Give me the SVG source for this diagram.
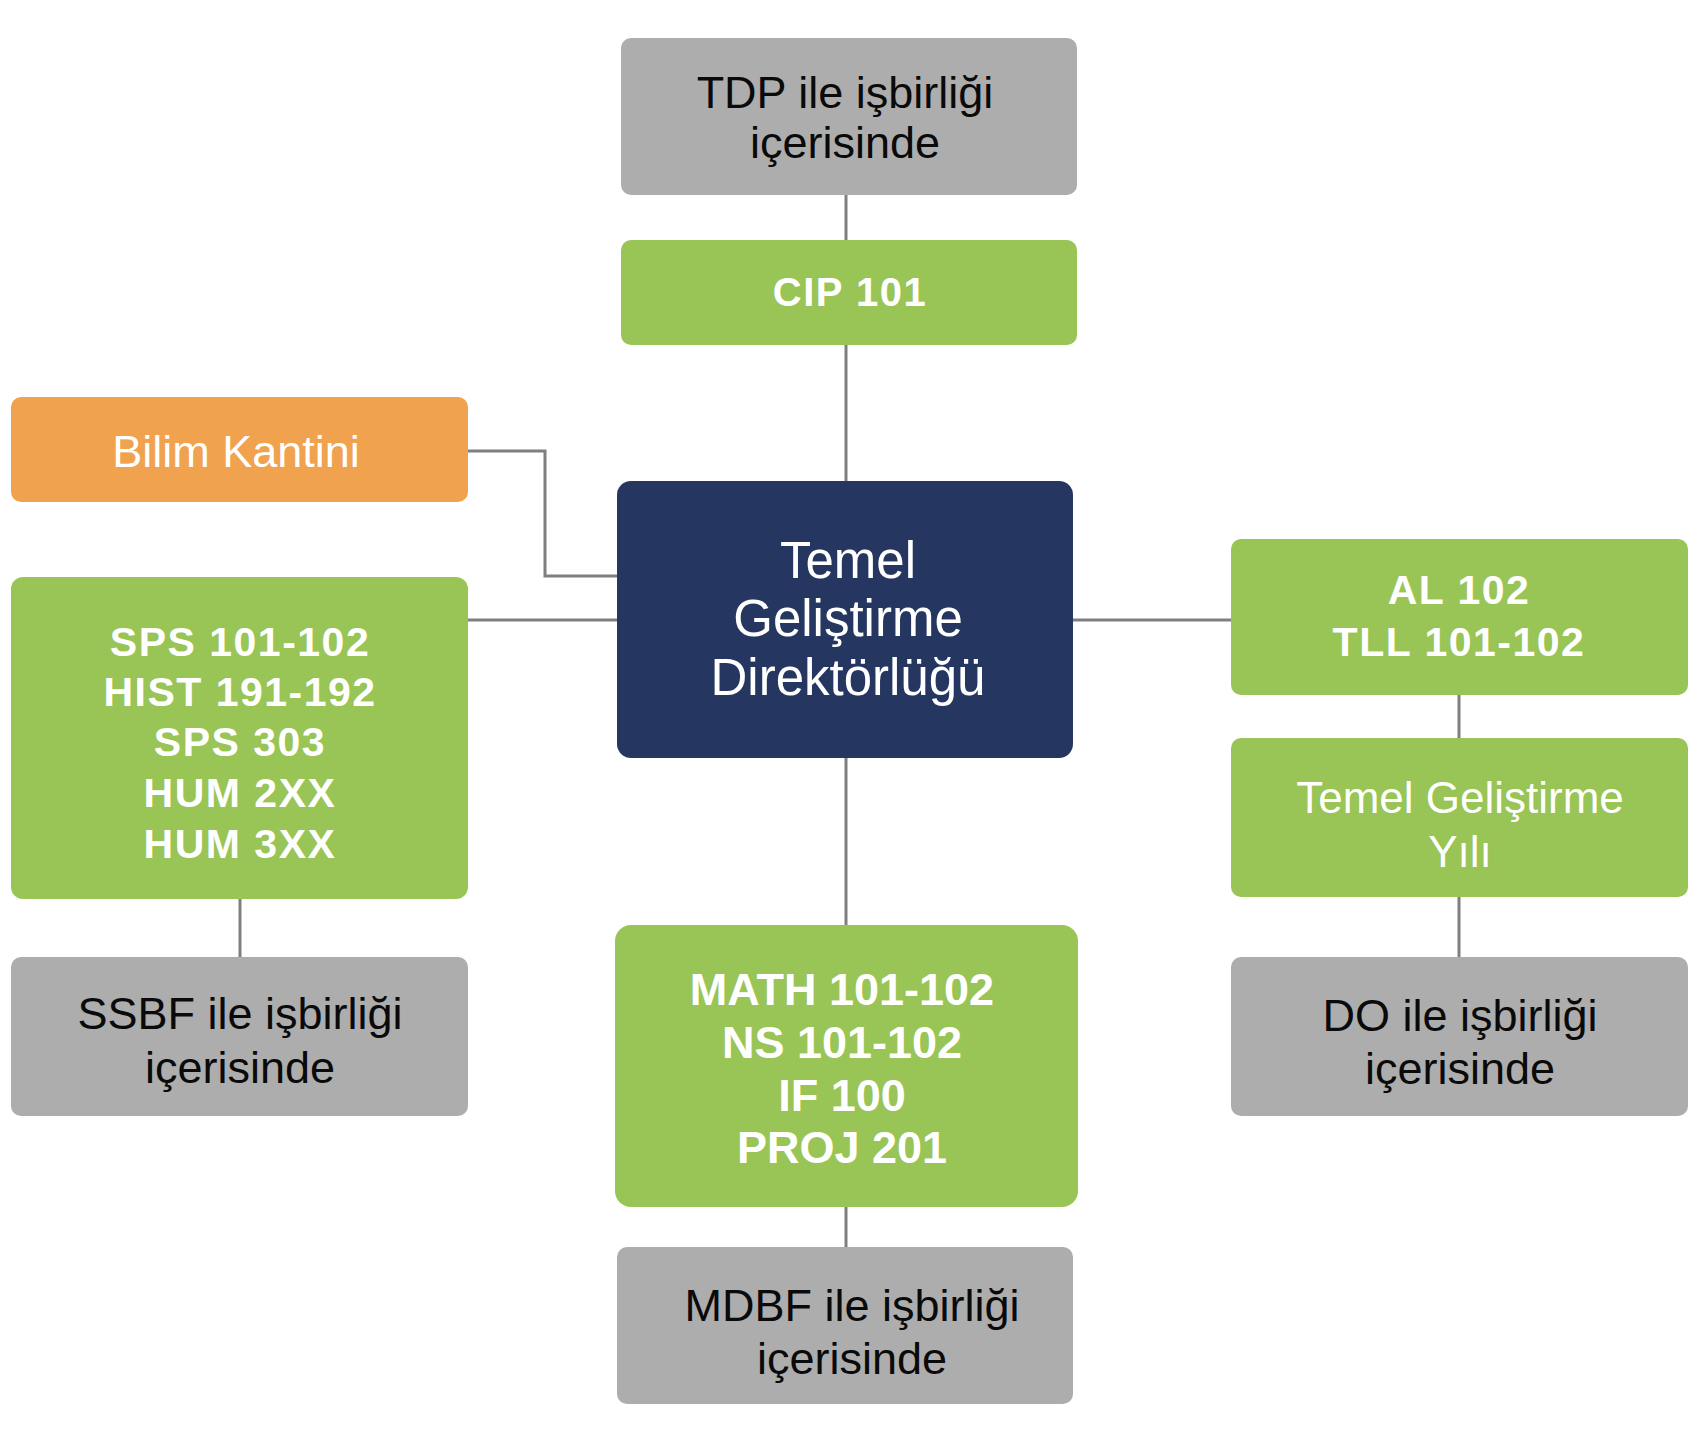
<svg xmlns="http://www.w3.org/2000/svg" width="1700" height="1444" viewBox="0 0 1700 1444">
<style>
.gray{fill:#ADADAD}
.green{fill:#99C456}
.orange{fill:#F0A24F}
.navy{fill:#253761}
.t{font-family:"Liberation Sans",Arial,sans-serif;text-anchor:middle}
.dk{fill:#0A0A0A;font-size:45px}
.wr{fill:#FFFFFF}
.wb{fill:#FFFFFF;font-weight:bold}
.conn{fill:none;stroke:#7F7F7F;stroke-width:3}
</style>
<rect width="1700" height="1444" fill="#FFFFFF"/>
<g id="connectors">
<line class="conn" x1="846" y1="195" x2="846" y2="240"/>
<line class="conn" x1="846" y1="345" x2="846" y2="481"/>
<line class="conn" x1="846" y1="758" x2="846" y2="925"/>
<line class="conn" x1="846" y1="1207" x2="846" y2="1247"/>
<polyline class="conn" points="468,451 545,451 545,576 617,576"/>
<line class="conn" x1="468" y1="620" x2="617" y2="620"/>
<line class="conn" x1="1073" y1="620" x2="1231" y2="620"/>
<line class="conn" x1="1459" y1="695" x2="1459" y2="738"/>
<line class="conn" x1="1459" y1="897" x2="1459" y2="957"/>
<line class="conn" x1="240" y1="899" x2="240" y2="957"/>
</g>
<g id="tdp">
<rect class="gray" x="621" y="38" width="456" height="157" rx="10"/>
<text class="t dk" x="845" y="108">TDP ile işbirliği</text>
<text class="t dk" x="845" y="158">içerisinde</text>
</g>
<g id="cip">
<rect class="green" x="621" y="240" width="456" height="105" rx="10"/>
<text class="t wb" x="850" y="306" font-size="40" letter-spacing="1.5">CIP 101</text>
</g>
<g id="bilim">
<rect class="orange" x="11" y="397" width="457" height="105" rx="10"/>
<text class="t wr" x="236" y="467" font-size="45">Bilim Kantini</text>
</g>
<g id="center">
<rect class="navy" x="617" y="481" width="456" height="277" rx="14"/>
<text class="t wr" x="848" y="578" font-size="51">Temel</text>
<text class="t wr" x="848" y="636" font-size="51">Geliştirme</text>
<text class="t wr" x="848" y="695" font-size="51">Direktörlüğü</text>
</g>
<g id="left-courses">
<rect class="green" x="11" y="577" width="457" height="322" rx="12"/>
<g class="t wb" font-size="41" letter-spacing="1.5">
<text x="240" y="656">SPS 101-102</text>
<text x="240" y="706">HIST 191-192</text>
<text x="240" y="756">SPS 303</text>
<text x="240" y="807">HUM 2XX</text>
<text x="240" y="858">HUM 3XX</text>
</g>
</g>
<g id="ssbf">
<rect class="gray" x="11" y="957" width="457" height="159" rx="10"/>
<text class="t dk" x="240" y="1029">SSBF ile işbirliği</text>
<text class="t dk" x="240" y="1083">içerisinde</text>
</g>
<g id="al">
<rect class="green" x="1231" y="539" width="457" height="156" rx="10"/>
<g class="t wb" font-size="41" letter-spacing="1.5">
<text x="1459" y="604">AL 102</text>
<text x="1459" y="656">TLL 101-102</text>
</g>
</g>
<g id="year">
<rect class="green" x="1231" y="738" width="457" height="159" rx="10"/>
<text class="t wr" x="1460" y="813" font-size="44">Temel Geliştirme</text>
<text class="t wr" x="1460" y="867" font-size="44">Yılı</text>
</g>
<g id="do">
<rect class="gray" x="1231" y="957" width="457" height="159" rx="10"/>
<text class="t dk" x="1460" y="1031">DO ile işbirliği</text>
<text class="t dk" x="1460" y="1084">içerisinde</text>
</g>
<g id="math">
<rect class="green" x="615" y="925" width="463" height="282" rx="16"/>
<g class="t wb" font-size="45">
<text x="842" y="1005">MATH 101-102</text>
<text x="842" y="1058">NS 101-102</text>
<text x="842" y="1111">IF 100</text>
<text x="842" y="1163">PROJ 201</text>
</g>
</g>
<g id="mdbf">
<rect class="gray" x="617" y="1247" width="456" height="157" rx="10"/>
<text class="t dk" x="852" y="1321">MDBF ile işbirliği</text>
<text class="t dk" x="852" y="1374">içerisinde</text>
</g>
</svg>
